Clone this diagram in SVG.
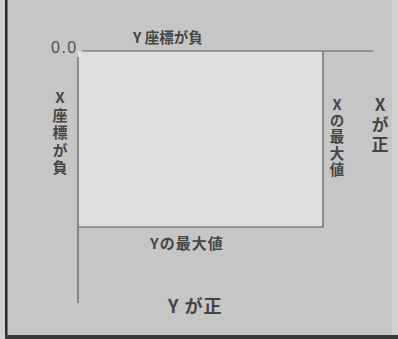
<svg xmlns="http://www.w3.org/2000/svg" width="398" height="339" viewBox="0 0 398 339">
<style>
.t{font-family:"Noto Sans CJK JP","Liberation Sans",sans-serif;fill:#454545;font-weight:bold}
.v{writing-mode:vertical-rl;text-orientation:upright}
.ln{stroke:#5a5a5a;stroke-width:1.2;fill:none}
</style>
<rect x="0" y="0" width="398" height="339" fill="#c6c6c6"/>
<rect x="0" y="0" width="5" height="339" fill="#d2d2d2"/>
<rect x="5" y="0" width="2.5" height="339" fill="#2a2a2a"/>
<rect x="392" y="0" width="6" height="339" fill="#d0d0d0"/>
<rect x="5" y="335" width="393" height="4" fill="#3a3a3a"/>
<g id="area">
<rect x="78" y="51" width="245" height="176" fill="#dedede"/>
</g>
<g id="connectors">
<line class="ln" x1="82" y1="51" x2="373" y2="51"/>
<line class="ln" x1="78" y1="57" x2="78" y2="303"/>
<line class="ln" x1="323" y1="51" x2="323" y2="227"/>
<line class="ln" x1="78" y1="227" x2="323" y2="227"/>
</g>
<g id="origin"><text x="51" y="53" font-size="16" letter-spacing="1.5" style="font-family:'Liberation Sans',sans-serif;fill:#505050">0.0</text></g>
<g id="ytop"><text class="t" x="133" y="43" font-size="14.5">Y 座標が負</text></g>
<g id="xleft"><text class="t v" x="60" y="90" font-size="15" letter-spacing="2.5">X座標が負</text></g>
<g id="xmax"><text class="t v" x="337" y="97" font-size="14.5" letter-spacing="1.8">Xの最大値</text></g>
<g id="xpos"><text class="t v" x="380" y="96" font-size="17" letter-spacing="3">Xが正</text></g>
<g id="ymax"><text class="t" x="150" y="249" font-size="15" letter-spacing="1">Yの最大値</text></g>
<g id="ypos"><text class="t" x="168" y="313" font-size="18" letter-spacing="1">Y が正</text></g>
</svg>
